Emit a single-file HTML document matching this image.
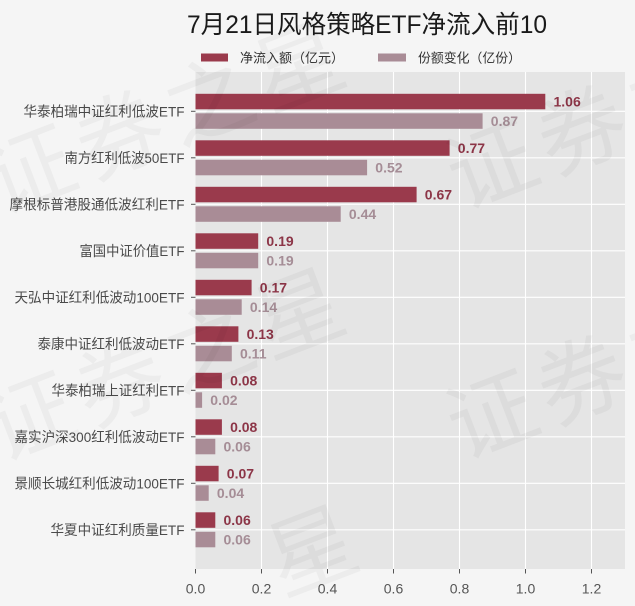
<!DOCTYPE html>
<html>
<head>
<meta charset="utf-8">
<style>
  html,body{margin:0;padding:0;background:#f5f5f5;width:635px;height:606px;overflow:hidden;}
  svg{display:block;}
  text{font-family:"Liberation Sans","Noto Sans CJK SC",sans-serif;}
</style>
</head>
<body>
<svg width="635" height="606" viewBox="0 0 635 606" xmlns="http://www.w3.org/2000/svg">
  <defs>
    <clipPath id="frame"><rect x="0" y="0" width="635" height="606"/></clipPath>
  </defs>
  <rect x="0" y="0" width="635" height="606" fill="#f5f5f5"/>
  <!-- plot background -->
  <rect x="195.5" y="72" width="429.5" height="497" fill="#e5e5e5"/>

  <!-- gridlines -->
  <g stroke="#ffffff" stroke-width="1.1">
    <line x1="261.5" y1="72" x2="261.5" y2="569"/>
    <line x1="327.5" y1="72" x2="327.5" y2="569"/>
    <line x1="393.5" y1="72" x2="393.5" y2="569"/>
    <line x1="459.5" y1="72" x2="459.5" y2="569"/>
    <line x1="525.5" y1="72" x2="525.5" y2="569"/>
    <line x1="591.5" y1="72" x2="591.5" y2="569"/>
    <line x1="195.5" y1="111.3" x2="625" y2="111.3"/>
    <line x1="195.5" y1="157.8" x2="625" y2="157.8"/>
    <line x1="195.5" y1="204.3" x2="625" y2="204.3"/>
    <line x1="195.5" y1="250.8" x2="625" y2="250.8"/>
    <line x1="195.5" y1="297.3" x2="625" y2="297.3"/>
    <line x1="195.5" y1="343.8" x2="625" y2="343.8"/>
    <line x1="195.5" y1="390.3" x2="625" y2="390.3"/>
    <line x1="195.5" y1="436.8" x2="625" y2="436.8"/>
    <line x1="195.5" y1="483.3" x2="625" y2="483.3"/>
    <line x1="195.5" y1="529.8" x2="625" y2="529.8"/>
  </g>

  <!-- bars -->
  <g fill="#9a3a4c">
    <rect x="195.5" y="93.8" width="349.8" height="15.5"/>
    <rect x="195.5" y="140.3" width="254.1" height="15.5"/>
    <rect x="195.5" y="186.8" width="221.1" height="15.5"/>
    <rect x="195.5" y="233.3" width="62.7" height="15.5"/>
    <rect x="195.5" y="279.8" width="56.1" height="15.5"/>
    <rect x="195.5" y="326.3" width="42.9" height="15.5"/>
    <rect x="195.5" y="372.8" width="26.4" height="15.5"/>
    <rect x="195.5" y="419.3" width="26.4" height="15.5"/>
    <rect x="195.5" y="465.8" width="23.1" height="15.5"/>
    <rect x="195.5" y="512.3" width="19.8" height="15.5"/>
  </g>
  <g fill="#a98c96">
    <rect x="195.5" y="113.3" width="287.1" height="15.5"/>
    <rect x="195.5" y="159.8" width="171.6" height="15.5"/>
    <rect x="195.5" y="206.3" width="145.2" height="15.5"/>
    <rect x="195.5" y="252.8" width="62.7" height="15.5"/>
    <rect x="195.5" y="299.3" width="46.2" height="15.5"/>
    <rect x="195.5" y="345.8" width="36.3" height="15.5"/>
    <rect x="195.5" y="392.3" width="6.6" height="15.5"/>
    <rect x="195.5" y="438.8" width="19.8" height="15.5"/>
    <rect x="195.5" y="485.3" width="13.2" height="15.5"/>
    <rect x="195.5" y="531.8" width="19.8" height="15.5"/>
  </g>

  <!-- value labels -->
  <g font-size="14" font-weight="bold" fill="#8c3547" dominant-baseline="central">
    <text x="553.5" y="101.6">1.06</text>
    <text x="457.8" y="148.1">0.77</text>
    <text x="424.8" y="194.6">0.67</text>
    <text x="266.4" y="241.1">0.19</text>
    <text x="259.8" y="287.6">0.17</text>
    <text x="246.6" y="334.1">0.13</text>
    <text x="230.1" y="380.6">0.08</text>
    <text x="230.1" y="427.1">0.08</text>
    <text x="226.8" y="473.6">0.07</text>
    <text x="223.5" y="520.1">0.06</text>
  </g>
  <g font-size="14" font-weight="bold" fill="#a58d96" dominant-baseline="central">
    <text x="490.8" y="121.1">0.87</text>
    <text x="375.3" y="167.6">0.52</text>
    <text x="348.9" y="214.1">0.44</text>
    <text x="266.4" y="260.6">0.19</text>
    <text x="249.9" y="307.1">0.14</text>
    <text x="240.0" y="353.6">0.11</text>
    <text x="210.3" y="400.1">0.02</text>
    <text x="223.5" y="446.6">0.06</text>
    <text x="216.9" y="493.1">0.04</text>
    <text x="223.5" y="539.6">0.06</text>
  </g>

  <!-- y ticks -->
  <g stroke="#555" stroke-width="1">
    <line x1="191" y1="111.3" x2="195.5" y2="111.3"/>
    <line x1="191" y1="157.8" x2="195.5" y2="157.8"/>
    <line x1="191" y1="204.3" x2="195.5" y2="204.3"/>
    <line x1="191" y1="250.8" x2="195.5" y2="250.8"/>
    <line x1="191" y1="297.3" x2="195.5" y2="297.3"/>
    <line x1="191" y1="343.8" x2="195.5" y2="343.8"/>
    <line x1="191" y1="390.3" x2="195.5" y2="390.3"/>
    <line x1="191" y1="436.8" x2="195.5" y2="436.8"/>
    <line x1="191" y1="483.3" x2="195.5" y2="483.3"/>
    <line x1="191" y1="529.8" x2="195.5" y2="529.8"/>
  </g>
  <!-- x ticks -->
  <g stroke="#555" stroke-width="1">
    <line x1="195.5" y1="569" x2="195.5" y2="573.5"/>
    <line x1="261.5" y1="569" x2="261.5" y2="573.5"/>
    <line x1="327.5" y1="569" x2="327.5" y2="573.5"/>
    <line x1="393.5" y1="569" x2="393.5" y2="573.5"/>
    <line x1="459.5" y1="569" x2="459.5" y2="573.5"/>
    <line x1="525.5" y1="569" x2="525.5" y2="573.5"/>
    <line x1="591.5" y1="569" x2="591.5" y2="573.5"/>
  </g>

  <!-- category labels -->
  <g font-size="14" fill="#4a4a4a" text-anchor="end" dominant-baseline="central">
    <text x="184.5" y="111.3" textLength="161" lengthAdjust="spacingAndGlyphs">华泰柏瑞中证红利低波ETF</text>
    <text x="184.5" y="157.8" textLength="120" lengthAdjust="spacingAndGlyphs">南方红利低波50ETF</text>
    <text x="184.5" y="204.3" textLength="175" lengthAdjust="spacingAndGlyphs">摩根标普港股通低波红利ETF</text>
    <text x="184.5" y="250.8" textLength="105" lengthAdjust="spacingAndGlyphs">富国中证价值ETF</text>
    <text x="184.5" y="297.3" textLength="170" lengthAdjust="spacingAndGlyphs">天弘中证红利低波动100ETF</text>
    <text x="184.5" y="343.8" textLength="147" lengthAdjust="spacingAndGlyphs">泰康中证红利低波动ETF</text>
    <text x="184.5" y="390.3" textLength="133" lengthAdjust="spacingAndGlyphs">华泰柏瑞上证红利ETF</text>
    <text x="184.5" y="436.8" textLength="170" lengthAdjust="spacingAndGlyphs">嘉实沪深300红利低波动ETF</text>
    <text x="184.5" y="483.3" textLength="170" lengthAdjust="spacingAndGlyphs">景顺长城红利低波动100ETF</text>
    <text x="184.5" y="529.8" textLength="134" lengthAdjust="spacingAndGlyphs">华夏中证红利质量ETF</text>
  </g>

  <!-- x tick labels -->
  <g font-size="14" fill="#555" text-anchor="middle">
    <text x="195.5" y="593.5">0.0</text>
    <text x="261.5" y="593.5">0.2</text>
    <text x="327.5" y="593.5">0.4</text>
    <text x="393.5" y="593.5">0.6</text>
    <text x="459.5" y="593.5">0.8</text>
    <text x="525.5" y="593.5">1.0</text>
    <text x="591.5" y="593.5">1.2</text>
  </g>

  <!-- title -->
  <text x="187" y="33" font-size="25" fill="#1a1a1a" textLength="360" lengthAdjust="spacingAndGlyphs">7月21日风格策略ETF净流入前10</text>

  <!-- legend -->
  <rect x="201" y="53.5" width="27" height="8" fill="#9a3a4c"/>
  <text x="240" y="58" font-size="13" fill="#333" dominant-baseline="central" textLength="104" lengthAdjust="spacingAndGlyphs">净流入额（亿元）</text>
  <rect x="378" y="53.5" width="28" height="8" fill="#a98c96"/>
  <text x="418" y="58" font-size="13" fill="#333" dominant-baseline="central" textLength="103" lengthAdjust="spacingAndGlyphs">份额变化（亿份）</text>

  <!-- watermark -->
  <g clip-path="url(#frame)" font-size="88" fill="#000" fill-opacity="0.035">
    <text transform="translate(0,215) rotate(-21)" letter-spacing="8">证券之星</text>
    <text transform="translate(462,210) rotate(-21)" letter-spacing="8">证券之星</text>
    <text transform="translate(0,462) rotate(-21)" letter-spacing="8">证券之星</text>
    <text transform="translate(462,460) rotate(-21)" letter-spacing="8">证券之星</text>
    <text transform="translate(282,596) rotate(-21)">星</text>
  </g>
</svg>
</body>
</html>
